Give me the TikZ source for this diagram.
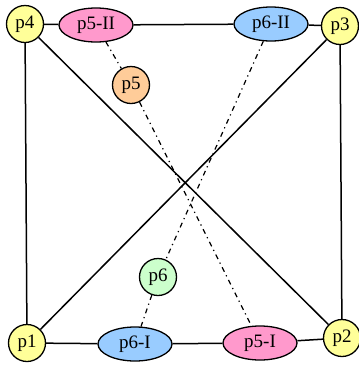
\documentclass[tikz,border=0pt]{standalone}
\usepackage{fontspec}
\setmainfont{Liberation Serif}
\usetikzlibrary{shapes.geometric}
\definecolor{vyellow}{HTML}{FFFF99}
\definecolor{vpink}{HTML}{FF99CC}
\definecolor{vblue}{HTML}{99CCFF}
\definecolor{vorange}{HTML}{FFCC99}
\definecolor{vgreen}{HTML}{CCFFCC}
\tikzset{every node/.style={font=\fontsize{19}{22}\selectfont,draw,line width=1.3pt,inner sep=0pt},
  vert/.style={circle,minimum size=37pt},
  half/.style={ellipse,minimum width=74pt,minimum height=34pt},
  split/.style={line width=1.2pt,dash pattern=on 5pt off 4pt on 1.2pt off 4pt}}
\begin{document}
\begin{tikzpicture}[x=1pt,y=-1pt,line width=1.5pt]
\useasboundingbox(0,0)rectangle(359,365);
\node[vert,fill=vyellow](p4)at(25,24){p4};\node[vert,fill=vyellow](p3)at(340,26){p3};
\node[vert,fill=vyellow](p1)at(27,343){p1};\node[vert,fill=vyellow](p2)at(342,338){p2};
\node[half,fill=vpink](p5II)at(96,25){p5-II};\node[half,fill=vblue](p6II)at(271,24){p6-II};
\node[half,fill=vblue](p6I)at(135,344){p6-I};\node[half,fill=vpink](p5I)at(260,343){p5-I};
\node[vert,fill=vorange](p5)at(131,85){p5};\node[vert,fill=vgreen](p6)at(158,277){p6};
\draw(p4)--(p5II)--(p6II)--(p3)--(p2)--(p5I)--(p6I)--(p1)--(p4);
\draw(p4)--(p2);\draw(p1)--(p3);
\draw[split](p5II)--(p5)--(p5I);
\draw[split](p6II)--(p6)--(p6I);
\end{tikzpicture}
\end{document}
